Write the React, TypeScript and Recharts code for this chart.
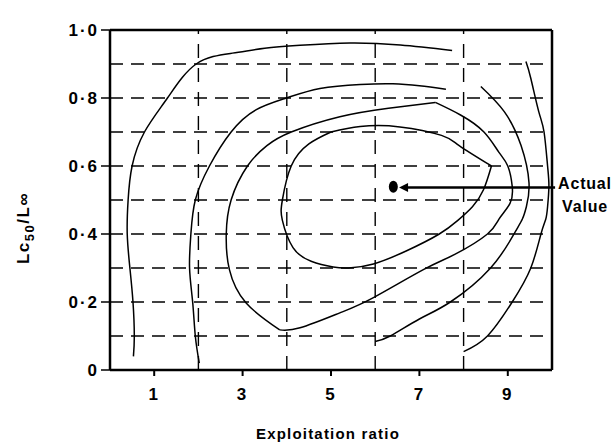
import React from 'react';
import { ComposedChart, XAxis, YAxis, Scatter, ReferenceLine } from 'recharts';

// --- axis ticks and grid ---
const X_TICKS = [1, 3, 5, 7, 9];
const Y_TICKS = [0, 0.2, 0.4, 0.6, 0.8, 1.0];
const GRID_X = [2, 4, 6, 8];
const GRID_Y = [0.1, 0.2, 0.3, 0.4, 0.5, 0.6, 0.7, 0.8, 0.9];

// --- isopleths as [exploitation ratio, Lc50/Linf] ---
const ISO_A = [
  [0.53, 0.04], [0.55, 0.1], [0.52, 0.2], [0.45, 0.3], [0.39, 0.4], [0.41, 0.5], [0.5, 0.6],
  [0.78, 0.7], [1.3, 0.8], [1.95, 0.9], [2.77, 0.932], [3.5, 0.946], [4.3, 0.955],
  [5.43, 0.962], [6.57, 0.956], [7.74, 0.94],
];
const ISO_B = [
  [2.02, 0.02], [1.93, 0.1], [1.87, 0.2], [1.8, 0.3], [1.83, 0.4], [1.93, 0.5], [2.25, 0.6],
  [2.74, 0.7], [3.3, 0.765], [3.99, 0.8], [4.75, 0.828], [5.66, 0.84], [6.4, 0.842],
  [7.0, 0.836], [7.6, 0.826],
];
// C and D have sharp corners, so each is kept as two pieces meeting at the corner
const ISO_C_LEFT = [
  [3.84, 0.118], [3.08, 0.197], [2.7, 0.296], [2.63, 0.4], [2.74, 0.5], [3.11, 0.6],
  [3.55, 0.66], [4.1, 0.7], [5.2, 0.745], [6.3, 0.77], [7.36, 0.787],
];
const ISO_C_RIGHT = [
  [7.36, 0.787], [7.93, 0.75], [8.46, 0.7], [8.8, 0.64], [9.0, 0.6], [9.1, 0.54], [9.05, 0.49],
  [8.8, 0.444], [8.54, 0.4], [7.8, 0.34], [7.1, 0.296], [5.96, 0.213], [5.2, 0.168],
  [4.3, 0.124], [3.84, 0.118],
];
const ISO_D_LOWER = [
  [5.0, 0.7], [4.5, 0.665], [4.1, 0.6], [3.9, 0.5], [3.9, 0.44], [4.14, 0.36], [4.55, 0.32],
  [5.05, 0.303], [5.4, 0.3], [5.96, 0.312], [6.7, 0.35], [7.45, 0.4], [7.87, 0.44],
  [8.2, 0.48], [8.45, 0.53], [8.63, 0.6],
];
const ISO_D_UPPER = [
  [8.63, 0.6], [7.9, 0.66], [7.5, 0.69], [6.56, 0.715], [5.66, 0.716], [5.0, 0.7],
];
const ISO_E = [
  [8.39, 0.834], [8.92, 0.76], [9.3, 0.66], [9.48, 0.55], [9.42, 0.48], [9.33, 0.444],
  [9.14, 0.4], [8.61, 0.3], [7.7, 0.2], [7.0, 0.15], [6.34, 0.1], [6.0, 0.084],
];
const ISO_F = [
  [9.41, 0.907], [9.52, 0.858], [9.7, 0.76], [9.82, 0.7], [9.9, 0.6], [9.93, 0.54],
  [9.9, 0.48], [9.86, 0.444], [9.75, 0.4], [9.52, 0.3], [9.1, 0.2], [8.54, 0.1], [8.0, 0.054],
];
const ISOPLETHS = [ISO_A, ISO_B, ISO_C_LEFT, ISO_C_RIGHT, ISO_D_LOWER, ISO_D_UPPER, ISO_E, ISO_F];

// --- actual value marker ---
const ACTUAL = [[6.41, 0.539]];
const ARROW_TIP = [[6.63, 0.537]];
const ARROW_END = 10.07;

const pts = (arr: number[][]) => arr.map(([x, y]) => ({ x, y }));

const FONT = '"Liberation Sans", Arial, sans-serif';
const tickStyle = { fill: '#000', fontSize: 17, fontWeight: 'bold', fontFamily: FONT, letterSpacing: 2 };

const fmtY = (v: number) => (v === 0 ? '0' : v.toFixed(1).replace('.', '·'));

const YTitle = ({ viewBox }: any) => {
  const cx = viewBox.x + 29;
  const cy = viewBox.y + 198;
  return (
    <text
      x={cx} y={cy}
      transform={`rotate(-90 ${cx} ${cy})`}
      textAnchor="middle"
      fill="#000"
      fontFamily={FONT}
      fontWeight="bold"
      fontSize={17}
      letterSpacing={1.5}
    >
      <tspan>Lc</tspan>
      <tspan fontSize={13} dy={5}>50</tspan>
      <tspan dy={-5}>/L∞</tspan>
    </text>
  );
};

const XTitle = ({ viewBox }: any) => (
  <text
    x={viewBox.x + viewBox.width / 2 - 3}
    y={viewBox.y + 69}
    textAnchor="middle"
    fill="#000"
    fontFamily={FONT}
    fontWeight="bold"
    fontSize={15}
    letterSpacing={1.2}
  >
    Exploitation ratio
  </text>
);

const ActualLabel = ({ viewBox }: any) => {
  const x = viewBox.x + viewBox.width + 3;
  const y = viewBox.y;
  return (
    <text fill="#000" fontFamily={FONT} fontWeight="bold" fontSize={16} letterSpacing={0.8}>
      <tspan x={x} y={y + 2}>Actual</tspan>
      <tspan x={x + 4} y={y + 25}>Value</tspan>
    </text>
  );
};

const Nothing = () => <g />;

const ActualDot = (props: any) => <ellipse cx={props.cx} cy={props.cy} rx={4.5} ry={6} fill="#000" />;

const ArrowHead = (props: any) => {
  const { cx, cy } = props;
  return <path d={`M${cx - 4},${cy} L${cx + 5},${cy - 4.5} L${cx + 5},${cy + 4.5} Z`} fill="#000" />;
};

export default function App() {
  return (
    <div style={{ position: 'absolute', left: 0, top: 0, background: '#fff' }}>
      <ComposedChart width={612} height={443} margin={{ top: 30, right: 60, bottom: 0, left: 0 }}>
        <XAxis
          type="number"
          dataKey="x"
          domain={[0, 10]}
          allowDataOverflow
          ticks={X_TICKS}
          height={73}
          tickSize={6}
          tickMargin={12}
          axisLine={{ stroke: '#000', strokeWidth: 2.5 }}
          tickLine={{ stroke: '#000', strokeWidth: 2 }}
          tick={tickStyle}
          label={XTitle}
        />
        <YAxis
          type="number"
          dataKey="y"
          domain={[0, 1]}
          allowDataOverflow
          ticks={Y_TICKS}
          width={110}
          tickSize={9}
          tickMargin={2}
          tickFormatter={fmtY}
          axisLine={{ stroke: '#000', strokeWidth: 2.5 }}
          tickLine={{ stroke: '#000', strokeWidth: 1.5 }}
          tick={tickStyle}
          label={YTitle}
        />

        {GRID_Y.map((v) => (
          <ReferenceLine key={`gy${v}`} y={v} stroke="#000" strokeWidth={1.4} strokeDasharray="13 8" />
        ))}
        {GRID_X.map((v) => (
          <ReferenceLine key={`gx${v}`} x={v} stroke="#000" strokeWidth={1.4} strokeDasharray="14 10" />
        ))}

        {/* frame top and right */}
        <ReferenceLine y={1} stroke="#000" strokeWidth={2.5} />
        <ReferenceLine x={10} stroke="#000" strokeWidth={2.5} />

        {ISOPLETHS.map((iso, i) => (
          <Scatter
            key={`iso${i}`}
            data={pts(iso)}
            line={{ stroke: '#000', strokeWidth: 1.5 }}
            lineJointType="natural"
            shape={Nothing}
            isAnimationActive={false}
            legendType="none"
          />
        ))}

        <ReferenceLine
          segment={[{ x: ARROW_TIP[0][0] + 0.1, y: ARROW_TIP[0][1] }, { x: ARROW_END, y: ARROW_TIP[0][1] }]}
          stroke="#000"
          strokeWidth={2.5}
          ifOverflow="visible"
          label={ActualLabel}
        />
        <Scatter data={pts(ARROW_TIP)} shape={ArrowHead} isAnimationActive={false} legendType="none" />
        <Scatter data={pts(ACTUAL)} shape={ActualDot} isAnimationActive={false} legendType="none" />
      </ComposedChart>
    </div>
  );
}
